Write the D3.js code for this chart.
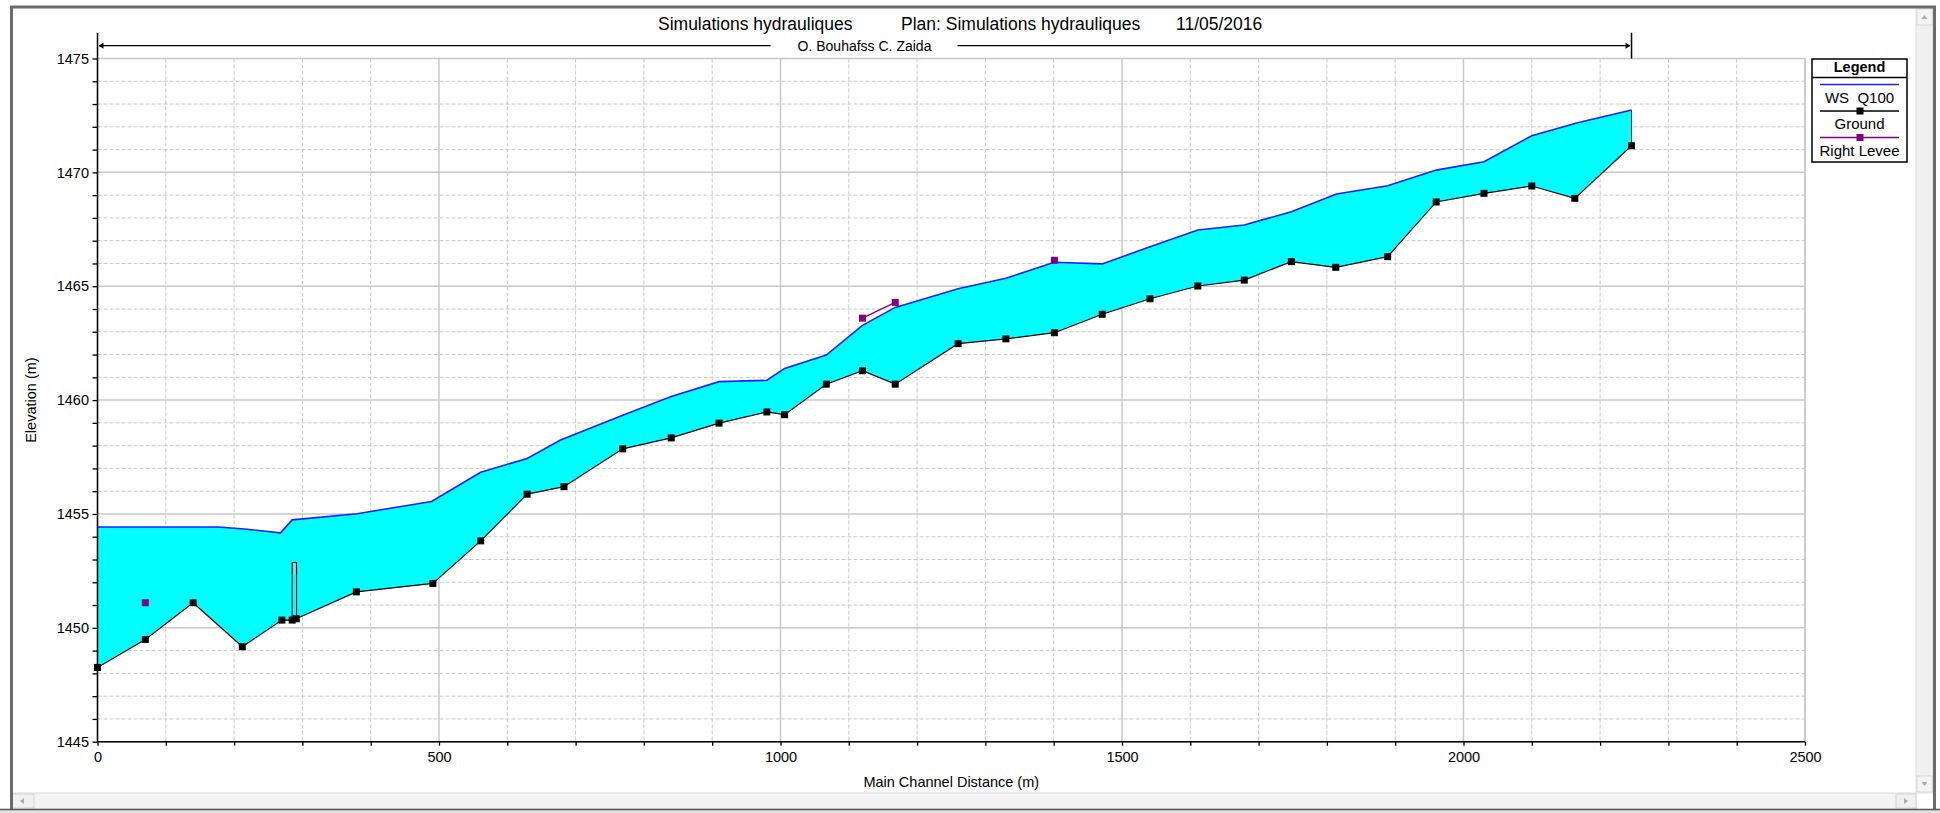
<!DOCTYPE html>
<html>
<head>
<meta charset="utf-8">
<script src="https://cdn.jsdelivr.net/npm/d3@7"></script>
<style>
  body { margin: 0; background: #fff; }
  text { font-family: "Liberation Sans", Arial, sans-serif; fill: #000; white-space: pre; }
</style>
</head>
<body>
<div id="profile"></div>
<script>
// water surface (WS Q100)
const wsStation = [0, 177, 219, 268, 285, 380, 489, 561, 629, 678, 769, 840, 910, 980, 1006, 1067, 1120, 1168, 1260, 1330, 1401, 1471, 1541, 1611, 1679, 1748, 1814, 1889, 1960, 2030, 2100, 2167, 2246];
const wsElev = [1454.43, 1454.43, 1454.33, 1454.17, 1454.74, 1455.01, 1455.55, 1456.83, 1457.44, 1458.25, 1459.33, 1460.16, 1460.81, 1460.87, 1461.39, 1461.98, 1463.28, 1464.07, 1464.89, 1465.35, 1466.05, 1465.98, 1466.73, 1467.47, 1467.69, 1468.27, 1469.05, 1469.41, 1470.10, 1470.47, 1471.61, 1472.18, 1472.74];

// ground (channel invert) at each cross section
const groundStation = [0, 70, 140, 212, 270, 285, 291, 379, 491, 561, 629, 683, 769, 840, 910, 980, 1006, 1067, 1120, 1168, 1260, 1330, 1401, 1471, 1541, 1611, 1679, 1748, 1813, 1889, 1960, 2030, 2100, 2163, 2246];
const groundElev = [1448.26, 1449.49, 1451.10, 1449.17, 1450.34, 1450.34, 1450.40, 1451.58, 1451.95, 1453.82, 1455.87, 1456.20, 1457.86, 1458.34, 1458.99, 1459.48, 1459.36, 1460.70, 1461.29, 1460.70, 1462.48, 1462.69, 1462.96, 1463.77, 1464.45, 1465.01, 1465.27, 1466.08, 1465.83, 1466.30, 1468.70, 1469.08, 1469.40, 1468.86, 1471.17];

// right levee
const leveeStation = [70, 1120, 1168, 1401];
const leveeElev = [1451.10, 1463.60, 1464.29, 1466.14];

// inline structure
const structStation = [285, 291.5];
const structElev = [1452.87, 1452.36]; // top, low chord

const xTicks = [0, 500, 1000, 1500, 2000, 2500];
const yTicks = [1445, 1450, 1455, 1460, 1465, 1470, 1475];

const titleParts = ['Simulations hydrauliques', 'Plan: Simulations hydrauliques', '11/05/2016'];
const reachName = 'O. Bouhafss C. Zaida';
const legendItems = ['WS  Q100', 'Ground', 'Right Levee'];

const W = 1940, H = 813;
const svg = d3.select('#profile').append('svg')
  .attr('width', W).attr('height', H);

const x = d3.scaleLinear().domain([0, 2500]).range([97.5, 1805]);
const y = d3.scaleLinear().domain([1445, 1475]).range([741.7, 58.5]);

// window frame
svg.append('rect').attr('x', 0).attr('y', 0).attr('width', W).attr('height', H).attr('fill', '#fff');
svg.append('rect').attr('x', 0).attr('y', 809).attr('width', W).attr('height', 4).attr('fill', '#dfe3d6');

// grid
const grid = svg.append('g');
const xMinor = d3.range(0, 2501, 100);
const yMinor = d3.range(1445, 1476, 1);
grid.selectAll('.vx').data(xMinor).enter().append('line')
  .attr('x1', d => x(d)).attr('x2', d => x(d))
  .attr('y1', y(1475)).attr('y2', y(1445))
  .attr('stroke', '#c8c8c8')
  .attr('stroke-width', d => d % 500 === 0 ? 1.5 : 1)
  .attr('stroke-dasharray', d => d % 500 === 0 ? null : '4,2');
grid.selectAll('.hy').data(yMinor).enter().append('line')
  .attr('x1', x(0)).attr('x2', x(2500))
  .attr('y1', d => y(d)).attr('y2', d => y(d))
  .attr('stroke', '#c8c8c8')
  .attr('stroke-width', d => d % 5 === 0 ? 1.5 : 1)
  .attr('stroke-dasharray', d => d % 5 === 0 ? null : '4,2');
svg.append('line').attr('x1', x(2500)).attr('x2', x(2500)).attr('y1', y(1475)).attr('y2', y(1445))
  .attr('stroke', '#c8c8c8').attr('stroke-width', 1.5);

// water fill between WS and ground
const ws = wsStation.map((s, i) => [s, wsElev[i]]);
const ground = groundStation.map((s, i) => [s, groundElev[i]]);
const poly = ws.concat(ground.slice().reverse());
svg.append('path')
  .datum(poly)
  .attr('d', d3.line().x(d => x(d[0])).y(d => y(d[1])))
  .attr('fill', '#00ffff');

// inline structure
const gAt = s => {
  const i = groundStation.findIndex(v => v >= s);
  if (groundStation[i] === s) return groundElev[i];
  const t = (s - groundStation[i - 1]) / (groundStation[i] - groundStation[i - 1]);
  return groundElev[i - 1] + t * (groundElev[i] - groundElev[i - 1]);
};
svg.append('rect')
  .attr('x', x(structStation[0])).attr('y', y(structElev[0]))
  .attr('width', x(structStation[1]) - x(structStation[0]))
  .attr('height', y(gAt(structStation[0])) - y(structElev[0]))
  .attr('fill', '#00ffff').attr('stroke', '#000').attr('stroke-width', 1);
svg.append('rect')
  .attr('x', x(structStation[0]) + 1).attr('y', y(structElev[0]) + 1)
  .attr('width', x(structStation[1]) - x(structStation[0]) - 2)
  .attr('height', y(structElev[1]) - y(structElev[0]) - 1)
  .attr('fill', '#c0c0c0');

// WS line
svg.append('path')
  .datum(ws)
  .attr('d', d3.line().x(d => x(d[0])).y(d => y(d[1])))
  .attr('fill', 'none').attr('stroke', '#2020ff').attr('stroke-width', 1.6);

// end of reach vertical
svg.append('line')
  .attr('x1', x(2246)).attr('x2', x(2246))
  .attr('y1', y(wsElev[wsElev.length - 1])).attr('y2', y(groundElev[groundElev.length - 1]))
  .attr('stroke', '#333').attr('stroke-width', 1);

// ground line + markers
svg.append('path')
  .datum(ground)
  .attr('d', d3.line().x(d => x(d[0])).y(d => y(d[1])))
  .attr('fill', 'none').attr('stroke', '#000').attr('stroke-width', 1.2);
svg.selectAll('.gpt').data(ground).enter().append('rect')
  .attr('x', d => x(d[0]) - 3.5).attr('y', d => y(d[1]) - 3.5)
  .attr('width', 7).attr('height', 7).attr('fill', '#000');

// right levee: connect only adjacent cross sections
const levee = leveeStation.map((s, i) => [s, leveeElev[i]]);
levee.forEach((d, i) => {
  if (i === 0) return;
  const a = groundStation.indexOf(levee[i - 1][0]);
  const b = groundStation.indexOf(d[0]);
  if (b - a === 1) {
    svg.append('line')
      .attr('x1', x(levee[i - 1][0])).attr('y1', y(levee[i - 1][1]))
      .attr('x2', x(d[0])).attr('y2', y(d[1]))
      .attr('stroke', '#800080').attr('stroke-width', 1.2);
  }
});
svg.selectAll('.lpt').data(levee).enter().append('rect')
  .attr('x', d => x(d[0]) - 3.5).attr('y', d => y(d[1]) - 3.5)
  .attr('width', 7).attr('height', 7).attr('fill', '#800080');

// axes
const xAxis = svg.append('g')
  .attr('transform', `translate(0,${y(1445)})`)
  .call(d3.axisBottom(x).tickValues(xMinor).tickSize(4).tickPadding(6)
    .tickFormat(d => xTicks.indexOf(d) >= 0 ? d : ''));
const yAxis = svg.append('g')
  .attr('transform', `translate(${x(0)},0)`)
  .call(d3.axisLeft(y).tickValues(yMinor).tickSize(5).tickPadding(3.5)
    .tickFormat(d => yTicks.indexOf(d) >= 0 ? d : ''));
[xAxis, yAxis].forEach(a => {
  a.select('.domain').remove();
  a.selectAll('line').attr('stroke', '#000').attr('stroke-width', 1.3);
  a.selectAll('text').style('font-size', '14.5px').attr('fill', '#000');
});
svg.append('line').attr('x1', x(0)).attr('x2', x(2500)).attr('y1', y(1445)).attr('y2', y(1445))
  .attr('stroke', '#000').attr('stroke-width', 1.5);
svg.append('line').attr('x1', x(0)).attr('x2', x(0)).attr('y1', 32.7).attr('y2', y(1445))
  .attr('stroke', '#000').attr('stroke-width', 1.5);

svg.append('text')
  .attr('x', (x(0) + x(2500)) / 2).attr('y', 787)
  .attr('text-anchor', 'middle').style('font-size', '14.5px')
  .text('Main Channel Distance (m)');
svg.append('text')
  .attr('transform', `translate(36,${(y(1445) + y(1475)) / 2}) rotate(-90)`)
  .attr('text-anchor', 'middle').style('font-size', '14.5px')
  .text('Elevation (m)');

// reach marker
const reachY = 45.7;
const reachEnd = x(2246);
const mid = (x(0) + reachEnd) / 2;
svg.append('line').attr('x1', reachEnd).attr('x2', reachEnd).attr('y1', 32.7).attr('y2', y(1475))
  .attr('stroke', '#000').attr('stroke-width', 1.5);
svg.append('line').attr('x1', x(0) + 2).attr('x2', mid - 94).attr('y1', reachY).attr('y2', reachY)
  .attr('stroke', '#000').attr('stroke-width', 1.3);
svg.append('line').attr('x1', mid + 93).attr('x2', reachEnd - 2).attr('y1', reachY).attr('y2', reachY)
  .attr('stroke', '#000').attr('stroke-width', 1.3);
svg.append('path')
  .attr('d', `M${x(0) + 1},${reachY} l5,-3 l0,6 z`).attr('fill', '#000');
svg.append('path')
  .attr('d', `M${reachEnd - 1},${reachY} l-5,-3 l0,6 z`).attr('fill', '#000');
svg.append('text')
  .attr('x', mid).attr('y', reachY + 5)
  .attr('text-anchor', 'middle').style('font-size', '14px')
  .text(reachName);

// title
const titleX = [658, 901, 1176];
titleParts.forEach((t, i) => {
  svg.append('text')
    .attr('x', titleX[i]).attr('y', 30)
    .style('font-size', '17.5px')
    .text(t);
});

// legend
const lg = svg.append('g').attr('transform', 'translate(1812,59)');
lg.append('rect').attr('width', 95).attr('height', 103)
  .attr('fill', '#fff').attr('stroke', '#000').attr('stroke-width', 1.5);
lg.append('line').attr('x1', 0).attr('x2', 95).attr('y1', 18.5).attr('y2', 18.5)
  .attr('stroke', '#000').attr('stroke-width', 1.3);
lg.append('text').attr('x', 47.5).attr('y', 13)
  .attr('text-anchor', 'middle').style('font-size', '14.5px').style('font-weight', 'bold')
  .text('Legend');
const legendColor = ['#2020ff', '#000', '#800080'];
const legendMarker = [false, true, true];
legendItems.forEach((t, i) => {
  const ly = 25.5 + i * 26.5;
  lg.append('line').attr('x1', 8).attr('x2', 87).attr('y1', ly).attr('y2', ly)
    .attr('stroke', legendColor[i]).attr('stroke-width', 1.4);
  if (legendMarker[i]) {
    lg.append('rect').attr('x', 44.5).attr('y', ly - 3.5).attr('width', 7).attr('height', 7)
      .attr('fill', legendColor[i]);
  }
  lg.append('text').attr('x', 47.5).attr('y', ly + 18)
    .attr('text-anchor', 'middle').style('font-size', '15px')
    .text(t);
});

// scrollbars and window border
svg.append('rect').attr('x', 1916).attr('y', 8).attr('width', 17).attr('height', 785)
  .attr('fill', '#f0f0f0').attr('stroke', '#e0e0e0');
svg.append('rect').attr('x', 1917).attr('y', 9).attr('width', 15).attr('height', 16)
  .attr('fill', '#f4f4f4').attr('stroke', '#d8d8d8');
svg.append('rect').attr('x', 1917).attr('y', 776).attr('width', 15).attr('height', 16)
  .attr('fill', '#f4f4f4').attr('stroke', '#d8d8d8');
svg.append('path').attr('d', 'M1924.5,15 l-3,4 l6,0 z').attr('fill', '#aaa');
svg.append('path').attr('d', 'M1924.5,786 l-3,-4 l6,0 z').attr('fill', '#aaa');
svg.append('rect').attr('x', 12).attr('y', 793).attr('width', 1904).attr('height', 16)
  .attr('fill', '#f4f4f4').attr('stroke', '#dcdcdc');
svg.append('rect').attr('x', 12).attr('y', 794).attr('width', 22).attr('height', 14)
  .attr('fill', '#f0f0f0').attr('stroke', '#d4d4d4');
svg.append('rect').attr('x', 1896).attr('y', 794).attr('width', 20).attr('height', 14)
  .attr('fill', '#f0f0f0').attr('stroke', '#d4d4d4');
svg.append('path').attr('d', 'M20,801 l4,-3 l0,6 z').attr('fill', '#aaa');
svg.append('path').attr('d', 'M1908,801 l-4,-3 l0,6 z').attr('fill', '#aaa');
svg.append('path')
  .attr('d', 'M11.5,809 L11.5,7 L1934.5,7 L1934.5,809')
  .attr('fill', 'none').attr('stroke', '#6b6b6b').attr('stroke-width', 3);
svg.append('line').attr('x1', 0).attr('x2', W).attr('y1', 809.5).attr('y2', 809.5)
  .attr('stroke', '#555').attr('stroke-width', 1.5);
</script>
</body>
</html>
